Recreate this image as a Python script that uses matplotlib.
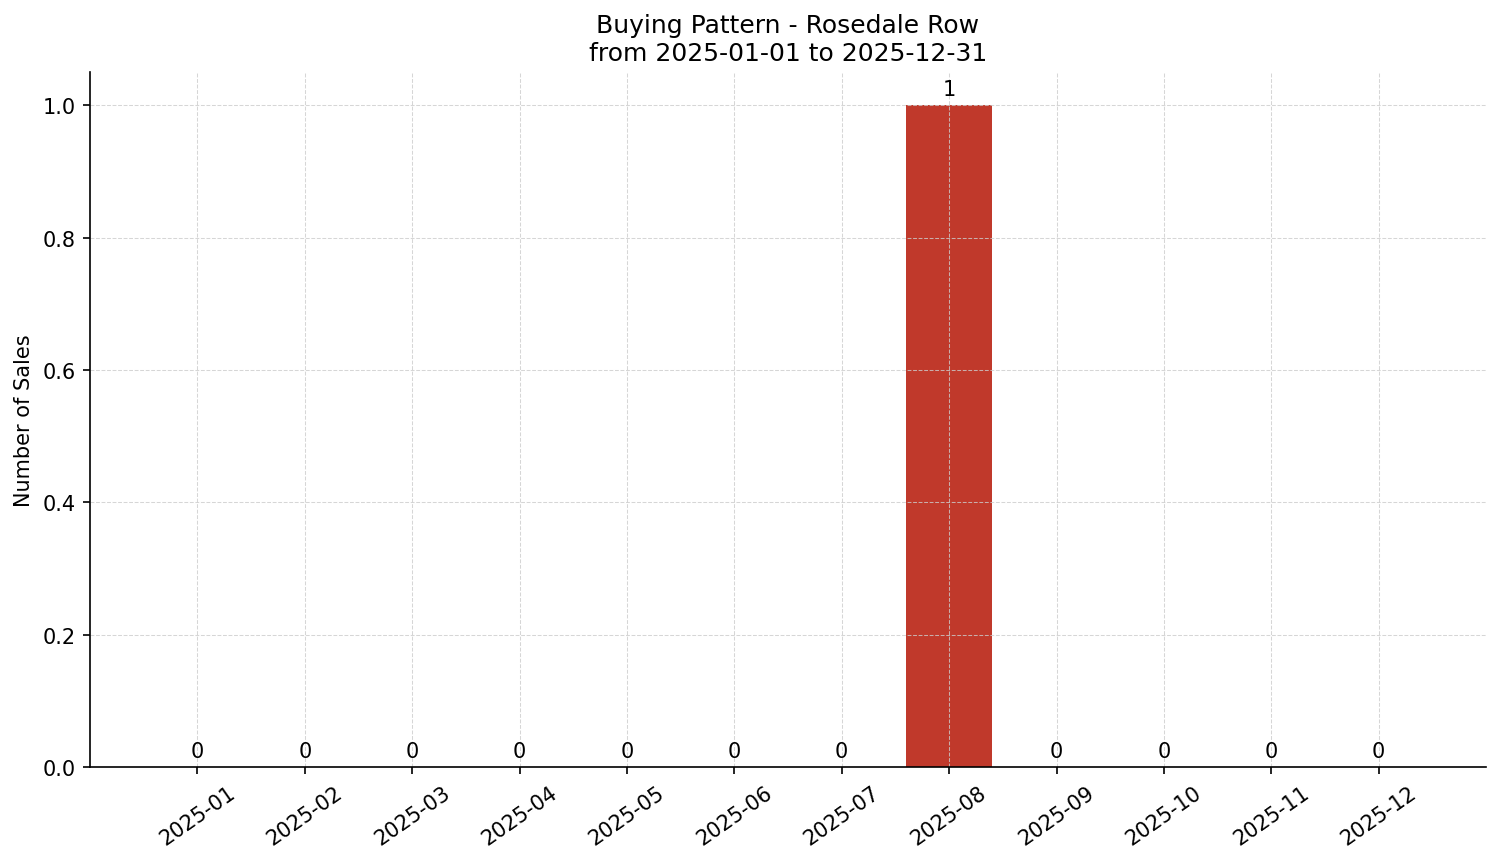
import matplotlib
matplotlib.use("Agg")
import matplotlib.pyplot as plt
import numpy as np

months = ["2025-01", "2025-02", "2025-03", "2025-04", "2025-05", "2025-06",
          "2025-07", "2025-08", "2025-09", "2025-10", "2025-11", "2025-12"]
sales = [0, 0, 0, 0, 0, 0, 0, 1, 0, 0, 0, 0]

fig, ax = plt.subplots(figsize=(10.007, 5.753), dpi=150)
x = np.arange(len(months))
bars = ax.bar(x, sales, width=0.8, color="#c0392b")
for b, v in zip(bars, sales):
    ax.annotate(str(v), (b.get_x() + b.get_width() / 2, v), xytext=(0, 3),
                textcoords="offset points", ha="center", va="bottom")

ax.set_xticks(x)
ax.set_xticklabels(months, rotation=35)
ax.set_xlim(-1, 12)
ax.set_ylim(0, 1.05)
ax.set_ylabel("Number of Sales")
ax.set_title("Buying Pattern - Rosedale Row\nfrom 2025-01-01 to 2025-12-31")
ax.grid(True, linestyle="--", linewidth=0.5, color="#cccccc", alpha=0.8)
ax.spines["top"].set_visible(False)
ax.spines["right"].set_visible(False)

fig.subplots_adjust(left=0.06, right=0.99, top=0.915, bottom=0.11)
fig.savefig("out.png")
